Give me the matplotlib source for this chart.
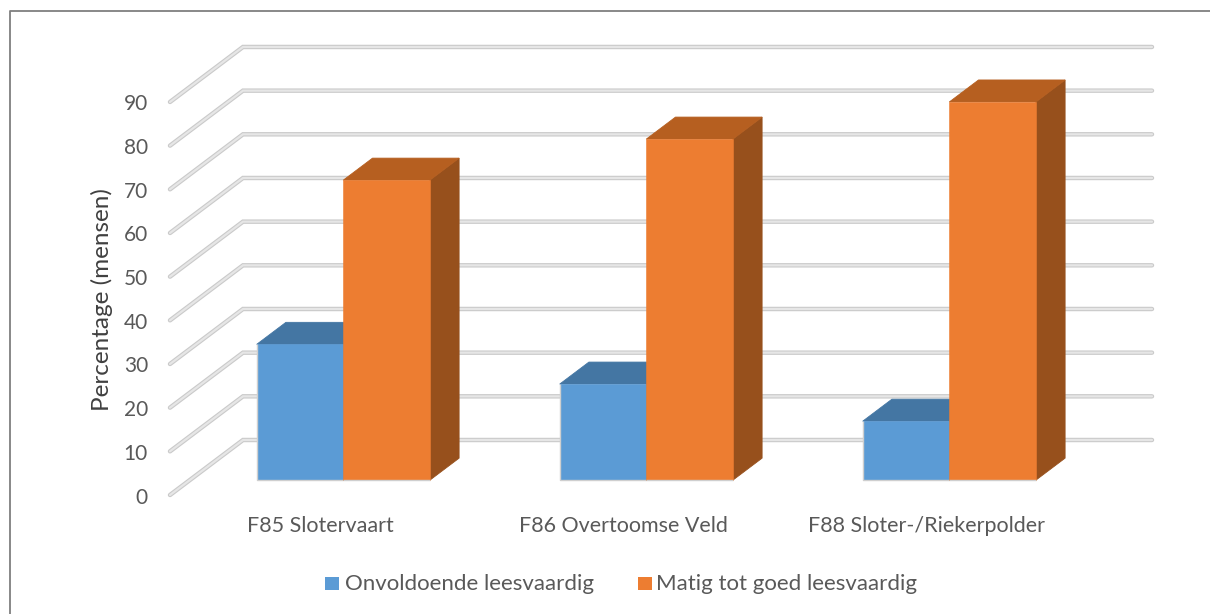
import matplotlib
matplotlib.use("Agg")
import matplotlib.pyplot as plt
from matplotlib.patches import Polygon, Rectangle

categories = ["F85 Slotervaart", "F86 Overtoomse Veld", "F88 Sloter-/Riekerpolder"]
series_names = ["Onvoldoende leesvaardig", "Matig tot goed leesvaardig"]
onvoldoende = [31.1, 22, 13.5]
matig_goed = [68.7, 78.1, 86.6]
y_ticks = [0, 10, 20, 30, 40, 50, 60, 70, 80, 90]
y_title = "Percentage (mensen)"

colors = ["#5B9BD5", "#ED7D31"]
tops = ["#4476A3", "#B65F20"]
sides = ["#3F6E99", "#97501C"]
grid_dark, grid_light = "#CACACA", "#E6E6E6"
text_col = "#595959"
font = "Lato"

W, H = 1210, 614
PX_X = 303.0          # px per category
PX_Y = 4.367          # px per percent
X0, Y0 = 344.0, 495.0 # px of category 0 / value 0 on the front plane
DX, DY = 73.0, 55.0   # total depth offset, px
D_FRONT, D_BACK = 0.27, 0.67
BAR_W = 86.6 / PX_X
PLANE_LEFT = (170.0 - X0) / PX_X
PLANE_RIGHT = (1152.0 - X0 - DX) / PX_X
BAR_SHIFT = (-D_FRONT * DX - 0.7) / PX_X

fig = plt.figure(figsize=(W / 100, H / 100), dpi=100)
ax = fig.add_axes([0, 0, 1, 1])
ax.set_xlim(-X0 / PX_X, (W - X0) / PX_X)
ax.set_ylim((Y0 - H) / PX_Y, Y0 / PX_Y)
ax.axis("off")


def proj(x, v, d):
    return x + d * DX / PX_X, v + d * DY / PX_Y


def px(xp, yp):
    return (xp - X0) / PX_X, (Y0 - yp) / PX_Y


# chart frame (top and left only, as cropped in the reference)
fx = [px(10, 614)[0], px(10, 11.5)[0], px(1210, 11.5)[0]]
fy = [px(10, 614)[1], px(10, 11.5)[1], px(1210, 11.5)[1]]
ax.plot(fx, fy, color="#7F7F7F", lw=1.3, zorder=1, solid_capstyle="butt")

# walls: gridlines
for t in y_ticks:
    pts = [proj(PLANE_LEFT, t, 0), proj(PLANE_LEFT, t, 1), proj(PLANE_RIGHT, t, 1)]
    xs, ys = zip(*pts)
    ax.plot(xs, ys, color=grid_dark, lw=3.2, zorder=2, solid_joinstyle="miter", solid_capstyle="round")
    ax.plot(xs, ys, color=grid_light, lw=1.6, zorder=3, solid_joinstyle="miter", solid_capstyle="round")
    tx, ty = proj(PLANE_LEFT, t, 0)
    ax.text(tx - 22 / PX_X, ty - 2.5 / PX_Y, str(t), ha="right", va="center", fontsize=15, color=text_col, family=font, zorder=6)

# 3-D bars
edge = "#CFCFCF"
for i in range(len(categories)):
    for j, vals in enumerate([onvoldoende, matig_goed]):
        x0 = i + (j - 1) * BAR_W + BAR_SHIFT
        x1 = x0 + BAR_W
        v = vals[i]
        z = 5 + j * 0.1
        a = proj(x0, 0, D_FRONT)
        b = proj(x1, 0, D_FRONT)
        c = proj(x1, v, D_FRONT)
        d = proj(x0, v, D_FRONT)
        e = proj(x0, v, D_BACK)
        f = proj(x1, v, D_BACK)
        g = proj(x1, 0, D_BACK)
        ax.add_patch(Polygon([b, g, f, c], closed=True, fc=sides[j], ec=sides[j], lw=0.6, zorder=z))
        ax.add_patch(Polygon([d, c, f, e], closed=True, fc=tops[j], ec=tops[j], lw=0.6, zorder=z))
        ax.add_patch(Polygon([a, b, c, d], closed=True, fc=colors[j], ec=colors[j], lw=0.4, zorder=z + 0.05))
        outline = [d, a, b] if j == 0 else [a, b]
        ax.plot(*zip(*outline), color=edge, lw=1.0, zorder=z + 0.06, solid_capstyle="butt")

# category labels
for i, c in enumerate(categories):
    xp, yp = px(X0 + i * PX_X - 23.5, 526)
    ax.text(xp, yp, c, ha="center", va="center", fontsize=15.5, color=text_col, family=font)

# axis title
xp, yp = px(101.5, 300)
ax.text(xp, yp, y_title, rotation=90, ha="center", va="center", fontsize=17.5, color="#404040", family=font)

# legend
for name, col, sx, tx in zip(series_names, colors, [325, 638], [345, 656]):
    x0, y0 = px(sx, 590)
    ax.add_patch(Rectangle((x0, y0), 14 / PX_X, 13 / PX_Y, fc=col, ec="none", zorder=6))
    xp, yp = px(tx, 584)
    ax.text(xp, yp, name, ha="left", va="center", fontsize=16, color=text_col, family=font)

fig.savefig("out.png", dpi=100)
